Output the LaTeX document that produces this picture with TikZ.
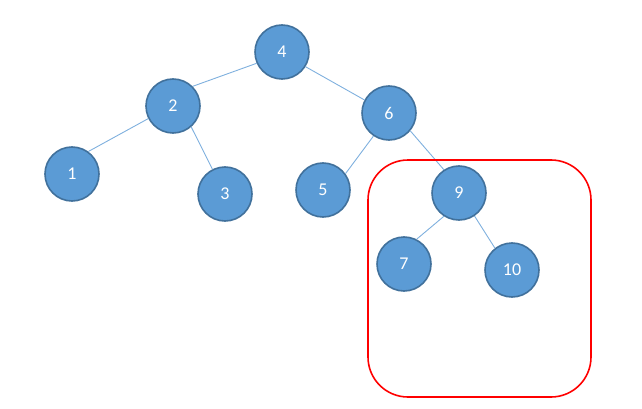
\documentclass[tikz,border=0pt]{standalone}
\usepackage{fontspec}
\setmainfont{Carlito}
\begin{document}
\begin{tikzpicture}[x=1pt,y=-1pt,
  tnode/.style={circle,minimum size=54pt,inner sep=0pt,fill=nodefill,draw=nodeborder,line width=1.6pt,text=white,font=\fontsize{18}{20}\selectfont},
  tedge/.style={draw=edgeblue,line width=0.9pt}]
\definecolor{nodefill}{HTML}{5B9BD5}
\definecolor{nodeborder}{HTML}{41719C}
\definecolor{edgeblue}{HTML}{7FB0DE}
\useasboundingbox (0,0) rectangle (642,409);
\node[tnode] (n4) at (282,52) {4};
\node[tnode] (n2) at (173,106) {2};
\node[tnode] (n6) at (389,113) {6};
\node[tnode] (n1) at (72,174) {1};
\node[tnode] (n3) at (225,194) {3};
\node[tnode] (n5) at (323,190) {5};
\node[tnode] (n9) at (459,193) {9};
\node[tnode] (n7) at (404,264) {7};
\node[tnode] (n10) at (512,270) {10};
\draw[tedge] (n4.204) -- (n2.45);
\draw[tedge] (n4.-32) -- (n6.152);
\draw[tedge] (n2.207) -- (n1.54);
\draw[tedge] (n2.-49) -- (n3.117);
\draw[tedge] (n6.236) -- (n5.36);
\draw[tedge] (n6.-40) -- (n9.123);
\draw[tedge] (n9.237) -- (n7.63);
\draw[tedge] (n9.-56) -- (n10.128);
\draw[red,line width=1.6pt,rounded corners=40pt] (368,160) rectangle (591,397);
\end{tikzpicture}
\end{document}
